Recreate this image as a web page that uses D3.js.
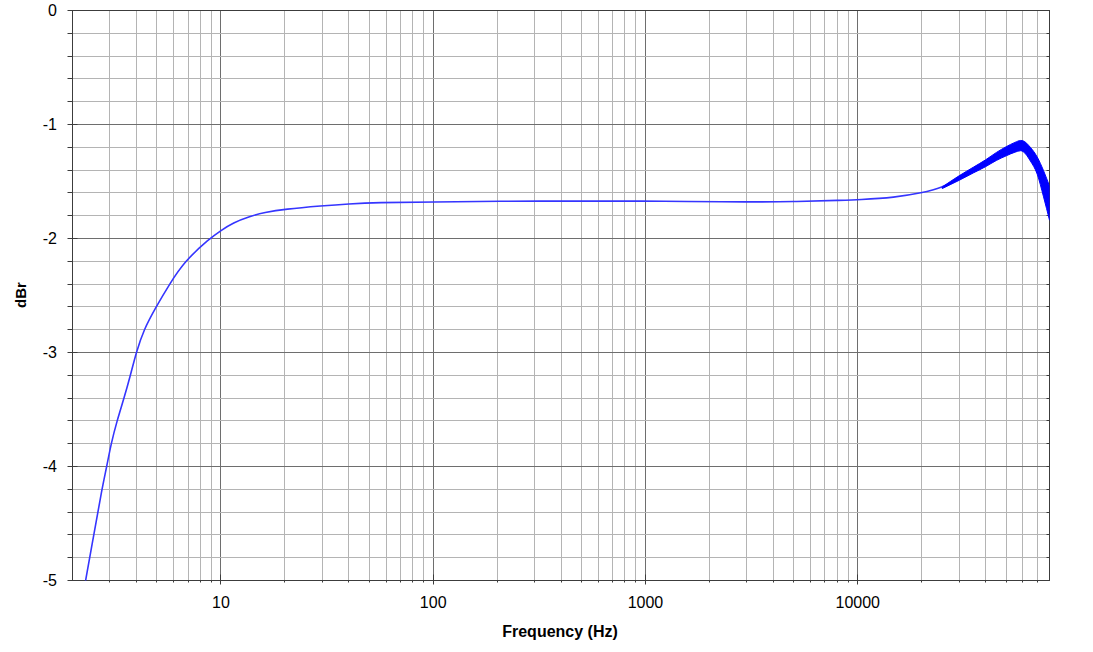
<!DOCTYPE html>
<html>
<head>
<meta charset="utf-8">
<script src="https://cdn.jsdelivr.net/npm/d3@7"></script>
<style>
	body { margin: 0; background: #fff; }
	svg { display: block; font-family: Arial, "Liberation Sans", sans-serif; }
</style>
</head>
<body>
<div id="chart"></div>
<script>
// response curve (Hz, dBr)
let freq = [2.28, 2.52, 2.75, 2.90, 3.04, 3.24, 3.50, 3.75, 3.99, 4.33, 4.95, 5.73, 6.74, 8.85, 10, 11.4, 13.7, 16,
	20, 30, 40, 54, 100, 200, 500, 1000, 1500, 3000, 5000, 8500, 10000, 15000, 20000, 25000, 30000];
let dBr = [-5.05, -4.6, -4.2, -4.0, -3.8, -3.6, -3.4, -3.2, -3.0, -2.8, -2.6, -2.4, -2.2, -2.0, -1.93, -1.862, -1.805, -1.772,
	-1.742, -1.713, -1.696, -1.684, -1.681, -1.672, -1.672, -1.672, -1.675, -1.68, -1.678, -1.664, -1.66, -1.64, -1.60, -1.555, -1.47];

// at the top end the trace ripples into a thick band: upper and lower edge
let bandFreq = [25000, 30000, 35000, 40000, 45000, 50000, 55000, 58500, 60000, 65000, 70000, 75000, 80000];
let bandHi = [-1.548, -1.45, -1.375, -1.31, -1.245, -1.195, -1.157, -1.14, -1.143, -1.20, -1.285, -1.405, -1.54];
let bandLo = [-1.562, -1.49, -1.425, -1.37, -1.315, -1.275, -1.243, -1.23, -1.237, -1.32, -1.435, -1.635, -1.84];

// axes
let yTicks = [0, -1, -2, -3, -4, -5];
let xTickLabels = [10, 100, 1000, 10000];
let xDomain = [2, 80000];
let yDomain = [0, -5];

function graph(id) {
	let width = 1093, height = 652;
	let left = 72.5, right = 1049.5, top = 10.5, bottom = 580.5;

	let svg = d3.select(id).append("svg")
		.attr("width", width)
		.attr("height", height);

	let x = d3.scaleLog().domain(xDomain).range([left, right]);
	let y = d3.scaleLinear().domain(yDomain).range([top, bottom]);

	// round to pixel centres so the 1px lines stay crisp
	let px = (v) => Math.round(v - 0.5) + 0.5;

	// every 2..9 x 10^k inside the domain, the decades are the major lines
	let xGrid = [];
	for (let k = 0; k <= 4; k++) {
		for (let m = 1; m <= 9; m++) {
			let f = m * Math.pow(10, k);
			if (f > xDomain[0] && f < xDomain[1]) xGrid.push(f);
		}
	}
	let yGrid = d3.range(0, 26).map((i) => -i * 0.2);
	let isMajorY = (d) => Math.abs(d - Math.round(d)) < 1e-6;

	let grid = svg.append("g");

	grid.selectAll(".vx")
		.data(xGrid)
		.enter()
		.append("line")
		.attr("x1", (d) => px(x(d)))
		.attr("x2", (d) => px(x(d)))
		.attr("y1", top)
		.attr("y2", bottom)
		.attr("stroke", (d) => xTickLabels.includes(d) ? "#6e6e6e" : "#b4b4b4")
		.attr("stroke-width", 1);

	grid.selectAll(".hy")
		.data(yGrid)
		.enter()
		.append("line")
		.attr("x1", left)
		.attr("x2", right)
		.attr("y1", (d) => px(y(d)))
		.attr("y2", (d) => px(y(d)))
		.attr("stroke", (d) => isMajorY(d) ? "#6e6e6e" : "#b4b4b4")
		.attr("stroke-width", 1);

	// frame
	svg.append("rect")
		.attr("x", left)
		.attr("y", top)
		.attr("width", right - left)
		.attr("height", bottom - top)
		.attr("fill", "none")
		.attr("stroke", "#3c3c3c")
		.attr("stroke-width", 1);

	// tick marks
	let ticks = svg.append("g").attr("stroke", "#3c3c3c").attr("stroke-width", 1);

	ticks.selectAll(".tyl")
		.data(yGrid)
		.enter()
		.append("line")
		.attr("x1", left - 5)
		.attr("x2", (d) => isMajorY(d) ? left + 5 : left)
		.attr("y1", (d) => px(y(d)))
		.attr("y2", (d) => px(y(d)));

	ticks.selectAll(".tyr")
		.data(yGrid)
		.enter()
		.append("line")
		.attr("x1", right - 3)
		.attr("x2", right)
		.attr("y1", (d) => px(y(d)))
		.attr("y2", (d) => px(y(d)));

	ticks.selectAll(".tx")
		.data(xGrid)
		.enter()
		.append("line")
		.attr("x1", (d) => px(x(d)))
		.attr("x2", (d) => px(x(d)))
		.attr("y1", (d) => xTickLabels.includes(d) ? bottom - 6 : bottom)
		.attr("y2", (d) => xTickLabels.includes(d) ? bottom + 4 : bottom + 2);

	// tick labels
	svg.selectAll(".ylab")
		.data(yTicks)
		.enter()
		.append("text")
		.attr("x", 57)
		.attr("y", (d) => y(d))
		.attr("dy", "0.35em")
		.attr("text-anchor", "end")
		.attr("font-size", 16)
		.text((d) => d);

	svg.selectAll(".xlab")
		.data(xTickLabels)
		.enter()
		.append("text")
		.attr("x", (d) => x(d))
		.attr("y", 608)
		.attr("text-anchor", "middle")
		.attr("font-size", 16)
		.text((d) => d);

	// axis titles
	svg.append("text")
		.attr("x", 560)
		.attr("y", 637)
		.attr("text-anchor", "middle")
		.attr("font-size", 16)
		.attr("font-weight", "bold")
		.text("Frequency (Hz)");

	svg.append("text")
		.attr("transform", "translate(26,295) rotate(-90)")
		.attr("text-anchor", "middle")
		.attr("font-size", 15)
		.attr("font-weight", "bold")
		.text("dBr");

	// keep the trace inside the plot
	svg.append("clipPath")
		.attr("id", "plotclip")
		.append("rect")
		.attr("x", left)
		.attr("y", top)
		.attr("width", right - left)
		.attr("height", bottom - top);

	let plot = svg.append("g").attr("clip-path", "url(#plotclip)");

	let trace = freq.map((f, i) => ({ f: f, v: dBr[i] }));
	plot.append("path")
		.datum(trace)
		.attr("fill", "none")
		.attr("stroke", "#3535ff")
		.attr("stroke-width", 1.6)
		.attr("d", d3.line()
			.x((d) => x(d.f))
			.y((d) => y(d.v))
			.curve(d3.curveBasis));

	let band = bandFreq.map((f, i) => ({ f: f, hi: bandHi[i], lo: bandLo[i] }));
	plot.append("path")
		.datum(band)
		.attr("fill", "#0000ff")
		.attr("stroke", "#0000ff")
		.attr("stroke-width", 1)
		.attr("d", d3.area()
			.x((d) => x(d.f))
			.y0((d) => y(d.lo))
			.y1((d) => y(d.hi))
			.curve(d3.curveMonotoneX));
}

graph("#chart");
</script>
</body>
</html>
